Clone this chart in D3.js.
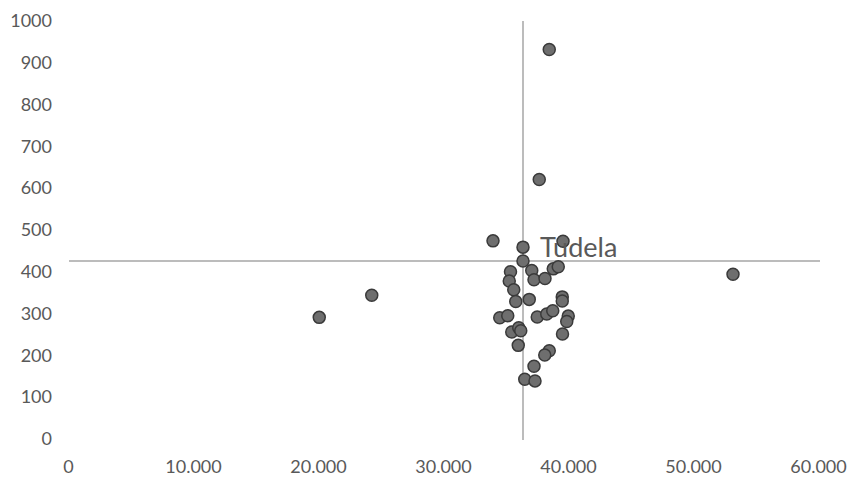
<!DOCTYPE html>
<html>
<head>
<meta charset="utf-8">
<script src="https://cdn.jsdelivr.net/npm/d3@7"></script>
<style>
  html, body { margin: 0; padding: 0; background: #ffffff; }
  svg { display: block; }
</style>
</head>
<body>
<svg id="chart" width="853" height="477"></svg>
<script>
// Data (x: income-like value, y: value)
const names = ["", "", "", "", "", "", "Tudela", "", "", "", "", "", "", "", "", "", "", "", "", "", "", "", "", "", "", "", "", "", "", "", "", "", "", "", "", "", "", ""];
const xValues = [20100, 24300, 38500, 37700, 53200, 34000, 36400, 39600, 36400, 35400, 37100, 35300, 37280, 38160, 38820, 39220, 35660, 35820, 36900, 39540, 39540, 34540, 35180, 37540, 38300, 38780, 40020, 39900, 35500, 36060, 36220, 39560, 36020, 38500, 38140, 37280, 36540, 37360];
const yValues = [291, 344, 932, 621, 394, 474, 459, 473, 426, 400, 403, 378, 381, 384, 407, 412, 357, 329, 334, 340, 330, 290, 295, 292, 299, 307, 294, 281, 256, 266, 259, 251, 224, 211, 201, 174, 143, 139];
const xTicks = [0, 10000, 20000, 30000, 40000, 50000, 60000];
const yTicks = [0, 100, 200, 300, 400, 500, 600, 700, 800, 900, 1000];
const refX = 36400;   // vertical reference line
const refY = 426;     // horizontal reference line

const svg = d3.select("#chart");
const x = d3.scaleLinear().domain([0, 60000]).range([68, 818]);
const y = d3.scaleLinear().domain([0, 1000]).range([439, 21]);

const loc = d3.formatLocale({decimal: ",", thousands: ".", grouping: [3], currency: ["", "€"]});
const fmt = loc.format(",d");

const textColor = "#595959";
const fontFam = "Lato, 'Open Sans', sans-serif";

// Y axis labels
const yAxis = svg.append("g")
  .attr("transform", "translate(52,0)")
  .call(d3.axisLeft(y).tickValues(yTicks).tickSize(0).tickPadding(0).tickFormat(d => String(d)));
yAxis.select(".domain").remove();
yAxis.selectAll("text").attr("fill", textColor).attr("font-size", "18px").attr("font-family", fontFam);

// X axis labels
const xAxis = svg.append("g")
  .attr("transform", "translate(0,460)")
  .call(d3.axisBottom(x).tickValues(xTicks).tickSize(0).tickPadding(0).tickFormat(d => fmt(d)));
xAxis.select(".domain").remove();
xAxis.selectAll("text").attr("fill", textColor).attr("font-size", "18px").attr("font-family", fontFam);

// Reference lines
svg.append("line")
  .attr("x1", x(0) + 1).attr("x2", x(60000) + 2)
  .attr("y1", y(refY)).attr("y2", y(refY))
  .attr("stroke", "#bcbcbc").attr("stroke-width", 2);
svg.append("line")
  .attr("x1", x(refX)).attr("x2", x(refX))
  .attr("y1", y(1000)).attr("y2", y(0) + 1)
  .attr("stroke", "#bcbcbc").attr("stroke-width", 2);

const data = xValues.map((v, i) => ({x: v, y: yValues[i], name: names[i]}));

// Points
svg.append("g").selectAll("circle")
  .data(data)
  .join("circle")
  .attr("cx", d => x(d.x))
  .attr("cy", d => y(d.y))
  .attr("r", 6)
  .attr("fill", "#6e6e6e")
  .attr("stroke", "#3a3a3a")
  .attr("stroke-width", 1.5);

// Label
svg.append("g").selectAll("text")
  .data(data.filter(d => d.name))
  .join("text")
  .attr("x", d => x(d.x) + 17)
  .attr("y", d => y(d.y) + 9.5)
  .attr("fill", textColor)
  .attr("font-size", "27px")
  .attr("font-family", fontFam)
  .text(d => d.name);
</script>
</body>
</html>
